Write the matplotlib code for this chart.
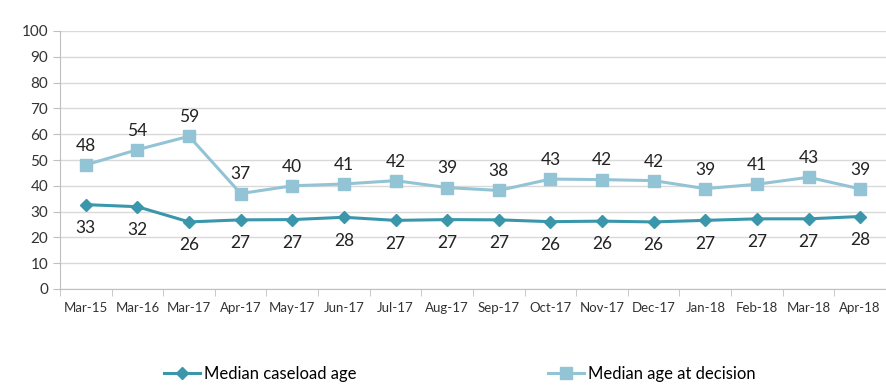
import matplotlib
matplotlib.use('Agg')
import matplotlib.pyplot as plt
from matplotlib.ticker import FixedLocator

months = ['Mar-15', 'Mar-16', 'Mar-17', 'Apr-17', 'May-17', 'Jun-17', 'Jul-17', 'Aug-17',
          'Sep-17', 'Oct-17', 'Nov-17', 'Dec-17', 'Jan-18', 'Feb-18', 'Mar-18', 'Apr-18']
caseload = [32.7, 31.9, 26.0, 26.8, 26.9, 27.8, 26.6, 26.9,
            26.8, 26.1, 26.3, 26.0, 26.6, 27.2, 27.2, 28.1]
decision = [48.1, 54.0, 59.2, 37.0, 40.0, 40.7, 42.0, 39.3,
            38.2, 42.6, 42.4, 42.0, 38.9, 40.6, 43.3, 38.8]

dark = '#3A97AB'
light = '#93C4D5'
plt.rcParams['font.family'] = ['Lato', 'DejaVu Sans']

fig = plt.figure(figsize=(8.87, 3.87), dpi=100)
ax = fig.add_axes([60/887, 1 - 289/387, 826/887, 258/387])

x = list(range(len(months)))
l1, = ax.plot(x, caseload, color=dark, lw=2.2, marker='D', ms=6.5, label='Median caseload age')
l2, = ax.plot(x, decision, color=light, lw=2.2, marker='s', ms=8.5, label='Median age at decision')

for xi, v in zip(x, caseload):
    ax.annotate(f'{int(v + 0.5)}', (xi, v), xytext=(0, -11), textcoords='offset points',
                ha='center', va='top', fontsize=12.5, color='#222222')
for xi, v in zip(x, decision):
    ax.annotate(f'{int(v + 0.5)}', (xi, v), xytext=(0, 8), textcoords='offset points',
                ha='center', va='bottom', fontsize=12.5, color='#222222')

ax.set_xlim(-0.5, len(months) - 0.5)
ax.set_ylim(0, 100)
ax.set_yticks(range(0, 101, 10))
ax.set_xticks(x)
ax.set_xticklabels(months, fontsize=9.5, color='#333333')
ax.xaxis.set_minor_locator(FixedLocator([i - 0.5 for i in range(len(months) + 1)]))
ax.tick_params(axis='x', which='major', length=0, pad=9)
ax.tick_params(axis='x', which='minor', length=5, color='#BFBFBF')
ax.tick_params(axis='y', length=5, color='#BFBFBF', labelsize=11, labelcolor='#333333')
ax.grid(axis='y', color='#D9D9D9', lw=1)
ax.set_axisbelow(True)
for s in ['top', 'right']:
    ax.spines[s].set_visible(False)
for s in ['left', 'bottom']:
    ax.spines[s].set_color('#BFBFBF')

fig.legend(handles=[l1, l2], loc='center', bbox_to_anchor=(0.518, 1 - 374/387), ncol=2,
           frameon=False, fontsize=12, columnspacing=11.5, handlelength=2.2, handletextpad=0.2)

fig.savefig('out.png', dpi=100)
